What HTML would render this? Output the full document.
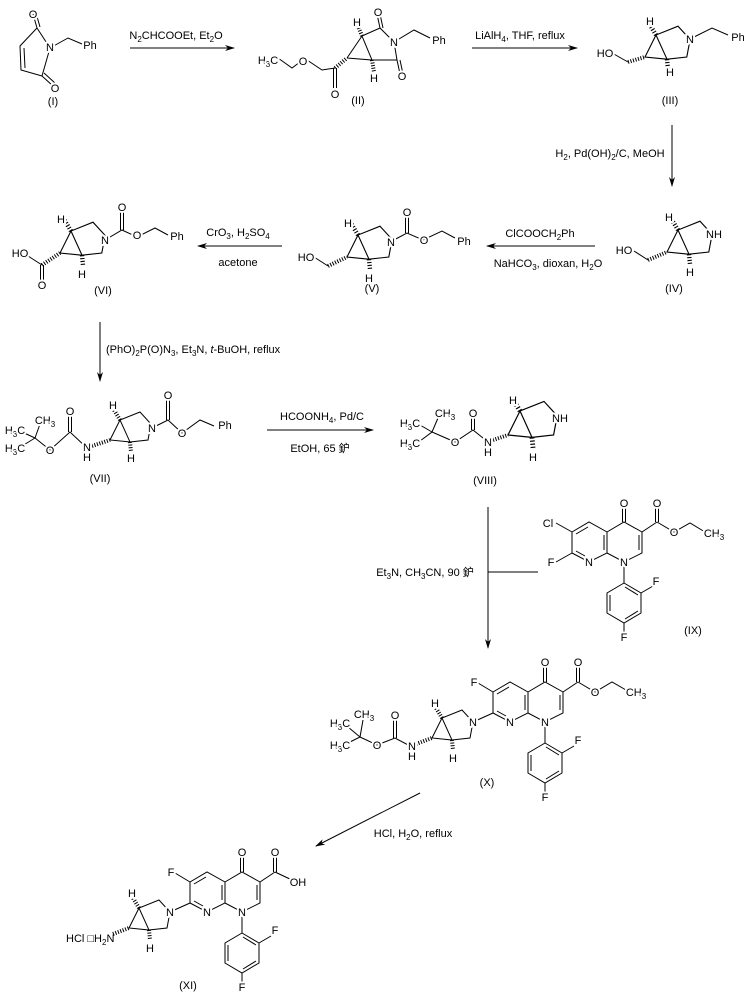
<!DOCTYPE html>
<html><head><meta charset="utf-8"><style>
html,body{margin:0;padding:0;background:#fff;}
svg{display:block;}
text{font-family:"Liberation Sans","Noto Sans CJK SC",sans-serif;font-size:11px;fill:#000;}
.a{paint-order:stroke;stroke:#fff;stroke-width:4px;stroke-linejoin:round;text-anchor:middle;}
.m{text-anchor:middle;}
.s{font-size:8px;}
line,polyline,path{stroke:#000;stroke-width:1;fill:none;}
.h{stroke-width:4;stroke-dasharray:1 1.6;}
</style></head><body>
<svg width="744" height="1004" viewBox="0 0 744 1004" xmlns="http://www.w3.org/2000/svg">
<defs>
<marker id="ar" markerWidth="10" markerHeight="6" refX="9" refY="3" orient="auto" markerUnits="userSpaceOnUse">
<path d="M0,0 L10,3 L0,6 L3,3 Z" style="fill:#000;stroke:none"/>
</marker>
<g id="core">
<polyline points="10,-20 0,0 20,2 10,-20 30,-28 41,-16 38,0 20,2"/>
<line class="h" x1="10" y1="-20" x2="4" y2="-30"/>
<line class="h" x1="20" y1="2" x2="21" y2="12"/>
</g>
<g id="naph">
<polyline points="493,713 493,692 510,682 528,692 528,713 510,722 493,713"/>
<line x1="497" y1="694" x2="509" y2="687"/>
<line x1="497" y1="711" x2="506" y2="716"/>
<line x1="525" y1="695" x2="525" y2="710"/>
<polyline points="528,692 545,682 563,692 563,713 545,722 528,713"/>
<line x1="560" y1="695" x2="560" y2="710"/>
<line x1="543.5" y1="682" x2="543.5" y2="666"/><line x1="546.5" y1="682" x2="546.5" y2="666"/>
<line x1="563" y1="692" x2="578" y2="682"/>
<line x1="576.5" y1="682" x2="576.5" y2="666"/><line x1="579.5" y1="682" x2="579.5" y2="666"/>
<line x1="545" y1="722" x2="545" y2="743"/>
<polyline points="545,743 562,753 562,773 545,783 528,773 528,753 545,743"/>
<line x1="546" y1="747" x2="559" y2="755"/>
<line x1="559" y1="771" x2="546" y2="779"/>
<line x1="531" y1="771" x2="531" y2="755"/>
<line x1="562" y1="753" x2="574" y2="746"/>
<line x1="545" y1="783" x2="545" y2="792"/>
</g>
</defs>

<!-- arrows -->
<line x1="130" y1="48" x2="234" y2="48" marker-end="url(#ar)"/>
<text class="m" x="176" y="39">N<tspan class="s" dy="3">2</tspan><tspan dy="-3">CHCOOEt, Et</tspan><tspan class="s" dy="3">2</tspan><tspan dy="-3">O</tspan></text>
<line x1="472" y1="48" x2="577" y2="48" marker-end="url(#ar)"/>
<text class="m" x="520" y="39">LiAlH<tspan class="s" dy="3">4</tspan><tspan dy="-3">, THF, reflux</tspan></text>
<line x1="672" y1="125" x2="672" y2="186" marker-end="url(#ar)"/>
<text class="m" x="610" y="157">H<tspan class="s" dy="3">2</tspan><tspan dy="-3">, Pd(OH)</tspan><tspan class="s" dy="3">2</tspan><tspan dy="-3">/C, MeOH</tspan></text>
<line x1="595" y1="246" x2="487" y2="246" marker-end="url(#ar)"/>
<text class="m" x="540" y="237">ClCOOCH<tspan class="s" dy="3">2</tspan><tspan dy="-3">Ph</tspan></text>
<text class="m" x="548" y="267">NaHCO<tspan class="s" dy="3">3</tspan><tspan dy="-3">, dioxan, H</tspan><tspan class="s" dy="3">2</tspan><tspan dy="-3">O</tspan></text>
<line x1="282" y1="246" x2="198" y2="246" marker-end="url(#ar)"/>
<text class="m" x="238" y="236">CrO<tspan class="s" dy="3">3</tspan><tspan dy="-3">, H</tspan><tspan class="s" dy="3">2</tspan><tspan dy="-3">SO</tspan><tspan class="s" dy="3">4</tspan></text>
<text class="m" x="238" y="266">acetone</text>
<line x1="100" y1="322" x2="100" y2="381" marker-end="url(#ar)"/>
<text x="106" y="353">(PhO)<tspan class="s" dy="3">2</tspan><tspan dy="-3">P(O)N</tspan><tspan class="s" dy="3">3</tspan><tspan dy="-3">, Et</tspan><tspan class="s" dy="3">3</tspan><tspan dy="-3">N, </tspan><tspan font-style="italic">t</tspan>-BuOH, reflux</text>
<line x1="267" y1="430" x2="373" y2="430" marker-end="url(#ar)"/>
<text class="m" x="322" y="420">HCOONH<tspan class="s" dy="3">4</tspan><tspan dy="-3">, Pd/C</tspan></text>
<text class="m" x="320" y="452">EtOH, 65 鈩</text>
<line x1="488" y1="507" x2="488" y2="648" marker-end="url(#ar)"/>
<line x1="488" y1="572" x2="538" y2="572"/>
<text class="m" x="425" y="576">Et<tspan class="s" dy="3">3</tspan><tspan dy="-3">N, CH</tspan><tspan class="s" dy="3">3</tspan><tspan dy="-3">CN, 90 鈩</tspan></text>
<line x1="420" y1="793" x2="316" y2="846" marker-end="url(#ar)"/>
<text class="m" x="413" y="837">HCl, H<tspan class="s" dy="3">2</tspan><tspan dy="-3">O, reflux</tspan></text>

<!-- (I) -->
<polyline points="37,28 20,46 21,70 42,76 50,48 37,28"/>
<line x1="24" y1="48" x2="25" y2="68"/>
<line x1="37" y1="28" x2="33" y2="14"/><line x1="40" y1="27" x2="36" y2="13"/>
<line x1="42" y1="76" x2="53" y2="86"/><line x1="44" y1="73" x2="55" y2="83"/>
<polyline points="50,48 68,38 82,44"/>
<text class="a" x="33" y="18">O</text>
<text class="a" x="55" y="92">O</text>
<text class="a" x="50" y="51">N</text>
<text class="a" x="90" y="49">Ph</text>
<text class="m" x="53" y="105">(I)</text>

<!-- (II) -->
<polyline points="278,58 292,68 300,62"/>
<polyline points="307,60 322,70 335,68"/>
<line x1="333.5" y1="68" x2="333.5" y2="88"/><line x1="336.5" y1="68" x2="336.5" y2="88"/>
<line class="h" x1="335" y1="68" x2="347" y2="58"/>
<polyline points="347,58 362,36 372,60 347,58"/>
<polyline points="362,36 380,28 394,42 397,60 372,60"/>
<line x1="380" y1="28" x2="377" y2="14"/><line x1="383" y1="28" x2="380" y2="14"/>
<line x1="397" y1="60" x2="400" y2="74"/><line x1="400" y1="60" x2="403" y2="74"/>
<polyline points="394,42 414,30 430,38"/>
<line class="h" x1="362" y1="36" x2="358" y2="26"/>
<line class="h" x1="372" y1="60" x2="374" y2="72"/>
<text class="a" x="268" y="64">H<tspan class="s" dy="3">3</tspan><tspan dy="-3">C</tspan></text>
<text class="a" x="303" y="65">O</text>
<text class="a" x="335" y="98">O</text>
<text class="a" x="378" y="16">O</text>
<text class="a" x="402" y="80">O</text>
<text class="a" x="394" y="46">N</text>
<text class="a" x="439" y="44">Ph</text>
<text class="a" x="357" y="26">H</text>
<text class="a" x="374" y="82">H</text>
<text class="m" x="358" y="104">(II)</text>

<!-- (III) -->
<use href="#core" transform="translate(645,57) scale(1.1)"/>
<line x1="612" y1="53" x2="628" y2="62"/>
<line class="h" x1="628" y1="62" x2="645" y2="57"/>
<polyline points="690,39 712,28 728,35"/>
<text class="a" x="605" y="57">HO</text>
<text class="a" x="690" y="43">N</text>
<text class="a" x="738" y="41">Ph</text>
<text class="a" x="650" y="25">H</text>
<text class="a" x="670" y="76">H</text>
<text class="m" x="670" y="104">(III)</text>

<!-- (IV) -->
<use href="#core" transform="translate(667,252) scale(1.1)"/>
<line x1="634" y1="251" x2="648" y2="260"/>
<line class="h" x1="648" y1="260" x2="667" y2="252"/>
<text class="a" x="624" y="254">HO</text>
<text class="a" x="714" y="238">NH</text>
<text class="a" x="669" y="221">H</text>
<text class="a" x="690" y="276">H</text>
<text class="m" x="674" y="292">(IV)</text>

<!-- (V) -->
<use href="#core" transform="translate(347,257) scale(1.1)"/>
<line x1="314" y1="257" x2="328" y2="266"/>
<line class="h" x1="328" y1="266" x2="347" y2="257"/>
<polyline points="390,242 407,233 423,240 442,231 455,238"/>
<line x1="405.5" y1="233" x2="405.5" y2="216"/><line x1="408.5" y1="233" x2="408.5" y2="216"/>
<text class="a" x="306" y="261">HO</text>
<text class="a" x="391" y="246">N</text>
<text class="a" x="407" y="216">O</text>
<text class="a" x="424" y="244">O</text>
<text class="a" x="464" y="245">Ph</text>
<text class="a" x="348" y="227">H</text>
<text class="a" x="369" y="282">H</text>
<text class="m" x="372" y="292">(V)</text>

<!-- (VI) -->
<use href="#core" transform="translate(60,253) scale(1.1)"/>
<line x1="28" y1="256" x2="42" y2="265"/>
<line class="h" x1="42" y1="265" x2="60" y2="253"/>
<line x1="40.5" y1="265" x2="40.5" y2="281"/><line x1="43.5" y1="265" x2="43.5" y2="281"/>
<polyline points="105,240 122,230 137,237 155,228 168,235"/>
<line x1="120.5" y1="230" x2="120.5" y2="212"/><line x1="123.5" y1="230" x2="123.5" y2="212"/>
<text class="a" x="20" y="257">HO</text>
<text class="a" x="42" y="289">O</text>
<text class="a" x="105" y="244">N</text>
<text class="a" x="122" y="211">O</text>
<text class="a" x="137" y="239">O</text>
<text class="a" x="177" y="240">Ph</text>
<text class="a" x="61" y="223">H</text>
<text class="a" x="82" y="278">H</text>
<text class="m" x="103" y="294">(VI)</text>

<!-- (VII) -->
<use href="#core" transform="translate(110,440)"/>
<polyline points="22,432 35,438 22,446"/>
<line x1="35" y1="438" x2="40" y2="424"/>
<polyline points="35,438 50,450 70,432 87,448"/>
<line x1="68.5" y1="432" x2="68.5" y2="415"/><line x1="71.5" y1="432" x2="71.5" y2="415"/>
<line class="h" x1="92" y1="446" x2="110" y2="440"/>
<polyline points="152,428 168,420 182,433 200,420 214,426"/>
<line x1="166.5" y1="420" x2="166.5" y2="400"/><line x1="169.5" y1="420" x2="169.5" y2="400"/>
<text class="a" x="15" y="434">H<tspan class="s" dy="3">3</tspan><tspan dy="-3">C</tspan></text>
<text class="a" x="15" y="452">H<tspan class="s" dy="3">3</tspan><tspan dy="-3">C</tspan></text>
<text class="a" x="45" y="424">CH<tspan class="s" dy="3">3</tspan></text>
<text class="a" x="50" y="454">O</text>
<text class="a" x="70" y="415">O</text>
<text class="a" x="87" y="451">N</text>
<text class="a" x="87" y="461">H</text>
<text class="a" x="152" y="432">N</text>
<text class="a" x="168" y="399">O</text>
<text class="a" x="182" y="437">O</text>
<text class="a" x="225" y="429">Ph</text>
<text class="a" x="113" y="409">H</text>
<text class="a" x="131" y="462">H</text>
<text class="m" x="100" y="482">(VII)</text>

<!-- (VIII) -->
<use href="#core" transform="translate(508,435) scale(1.2)"/>
<polyline points="420,425 432,432 420,441"/>
<line x1="432" y1="432" x2="438" y2="418"/>
<polyline points="432,432 455,442 473,430 488,442"/>
<line x1="471.5" y1="430" x2="471.5" y2="416"/><line x1="474.5" y1="430" x2="474.5" y2="416"/>
<line class="h" x1="493" y1="440" x2="508" y2="435"/>
<text class="a" x="410" y="427">H<tspan class="s" dy="3">3</tspan><tspan dy="-3">C</tspan></text>
<text class="a" x="410" y="447">H<tspan class="s" dy="3">3</tspan><tspan dy="-3">C</tspan></text>
<text class="a" x="445" y="417">CH<tspan class="s" dy="3">3</tspan></text>
<text class="a" x="455" y="446">O</text>
<text class="a" x="473" y="417">O</text>
<text class="a" x="488" y="446">N</text>
<text class="a" x="488" y="456">H</text>
<text class="a" x="560" y="422">NH</text>
<text class="a" x="513" y="404">H</text>
<text class="a" x="533" y="461">H</text>
<text class="m" x="485" y="484">(VIII)</text>

<!-- (IX) -->
<use href="#naph" transform="translate(79,-160)"/>
<line x1="572" y1="532" x2="556" y2="523"/>
<line x1="572" y1="553" x2="556" y2="562"/>
<polyline points="657,522 674,532 690,523 705,532"/>
<text class="a" x="548" y="527">Cl</text>
<text class="a" x="551" y="566">F</text>
<text class="a" x="589" y="566">N</text>
<text class="a" x="624" y="566">N</text>
<text class="a" x="624" y="507">O</text>
<text class="a" x="657" y="507">O</text>
<text class="a" x="674" y="536">O</text>
<text class="a" x="714" y="537">CH<tspan class="s" dy="3">3</tspan></text>
<text class="a" x="656" y="585">F</text>
<text class="a" x="624" y="641">F</text>
<text class="m" x="693" y="634">(IX)</text>

<!-- (X) -->
<use href="#naph"/>
<use href="#core" transform="translate(432,738)"/>
<line x1="493" y1="713" x2="473" y2="722"/>
<line x1="493" y1="692" x2="478" y2="683"/>
<polyline points="578,682 595,692 612,682 626,690"/>
<polyline points="348,727 360,737 348,743"/>
<line x1="360" y1="737" x2="363" y2="720"/>
<polyline points="360,737 377,745 395,738 412,747"/>
<line x1="393.5" y1="738" x2="393.5" y2="719"/><line x1="396.5" y1="738" x2="396.5" y2="719"/>
<line class="h" x1="416" y1="744" x2="432" y2="738"/>
<text class="a" x="340" y="727">H<tspan class="s" dy="3">3</tspan><tspan dy="-3">C</tspan></text>
<text class="a" x="340" y="749">H<tspan class="s" dy="3">3</tspan><tspan dy="-3">C</tspan></text>
<text class="a" x="364" y="718">CH<tspan class="s" dy="3">3</tspan></text>
<text class="a" x="377" y="749">O</text>
<text class="a" x="395" y="719">O</text>
<text class="a" x="412" y="750">N</text>
<text class="a" x="412" y="760">H</text>
<text class="a" x="473" y="726">N</text>
<text class="a" x="435" y="707">H</text>
<text class="a" x="453" y="762">H</text>
<text class="a" x="474" y="686">F</text>
<text class="a" x="510" y="726">N</text>
<text class="a" x="545" y="726">N</text>
<text class="a" x="545" y="666">O</text>
<text class="a" x="578" y="666">O</text>
<text class="a" x="595" y="696">O</text>
<text class="a" x="636" y="696">CH<tspan class="s" dy="3">3</tspan></text>
<text class="a" x="578" y="744">F</text>
<text class="a" x="545" y="801">F</text>
<text class="m" x="487" y="786">(X)</text>

<!-- (XI) -->
<use href="#naph" transform="translate(-303,190)"/>
<use href="#core" transform="translate(129,928)"/>
<line x1="190" y1="903" x2="170" y2="912"/>
<line x1="190" y1="882" x2="175" y2="873"/>
<line x1="275" y1="872" x2="292" y2="880"/>
<line class="h" x1="113" y1="934" x2="129" y2="928"/>
<text class="a" x="171" y="876">F</text>
<text class="a" x="170" y="916">N</text>
<text class="a" x="207" y="916">N</text>
<text class="a" x="242" y="916">N</text>
<text class="a" x="242" y="856">O</text>
<text class="a" x="275" y="856">O</text>
<text class="a" x="298" y="886">OH</text>
<text class="a" x="275" y="934">F</text>
<text class="a" x="242" y="991">F</text>
<text class="a" x="132" y="897">H</text>
<text class="a" x="150" y="952">H</text>
<text x="66" y="942">HCl □H<tspan class="s" dy="3">2</tspan><tspan dy="-3">N</tspan></text>
<text class="m" x="188" y="989">(XI)</text>
</svg>
</body></html>
